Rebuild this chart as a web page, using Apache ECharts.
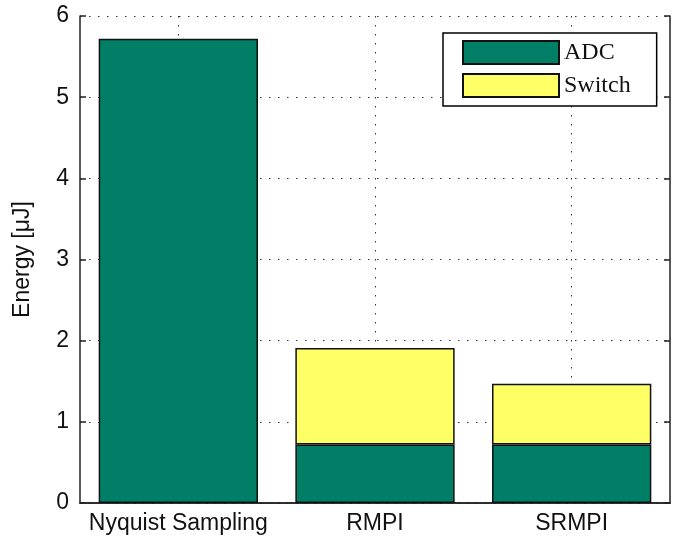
<!DOCTYPE html>
<html>
<head>
<meta charset="utf-8">
<script src="https://cdn.jsdelivr.net/npm/echarts@6/dist/echarts.min.js"></script>
<style>
  html, body { margin: 0; padding: 0; background: #fff; }
  #chart { width: 680px; height: 539px; }
</style>
</head>
<body>
<div id="chart"></div>
<script>
// Energy per acquisition scheme, split into ADC and switching contributions
const categories = ['Nyquist Sampling', 'RMPI', 'SRMPI'];
const adcEnergy = [5.72, 0.72, 0.72];
const switchEnergy = [0, 1.19, 0.75];
const yTicks = [0, 1, 2, 3, 4, 5, 6];

const SANS = '"Liberation Sans", Arial, Helvetica, sans-serif';
const SERIF = '"Liberation Serif", "Times New Roman", serif';
const dotted = { color: '#333', width: 1, type: [1.5, 7.5] };

// empty segments are left out so no zero-height outline is drawn on top of a bar
const skipZero = (arr) => arr.map((v) => (v === 0 ? '-' : v));

const chart = echarts.init(document.getElementById('chart'), null, { renderer: 'canvas' });

chart.setOption({
  animation: false,
  backgroundColor: '#fff',
  grid: { left: 80, right: 10, top: 16, bottom: 36, containLabel: false },
  legend: {
    left: 443,
    top: 33,
    orient: 'vertical',
    icon: 'rect',
    itemWidth: 96,
    itemHeight: 23,
    itemGap: 8,
    padding: [7, 26, 8, 19],
    borderColor: '#000',
    borderWidth: 1.5,
    backgroundColor: '#fff',
    textStyle: { fontFamily: SERIF, fontSize: 24, color: '#111' },
    data: ['ADC', 'Switch']
  },
  xAxis: [
    {
      type: 'category',
      data: categories,
      position: 'bottom',
      axisLine: { show: true, lineStyle: { color: '#222', width: 1.5 } },
      axisTick: { show: false },
      axisLabel: { fontFamily: SANS, fontSize: 23, color: '#111', margin: 9, interval: 0, hideOverlap: false },
      splitLine: { show: false }
    },
    {
      // half-step helper axis: frames the top edge and puts dotted grid lines at bar centres
      type: 'category',
      data: ['', '', '', '', '', '', ''],
      boundaryGap: false,
      position: 'top',
      axisLine: { show: true, lineStyle: { color: '#222', width: 1.5 } },
      axisTick: { show: false },
      axisLabel: { show: false },
      splitLine: { show: true, interval: (i) => i % 2 === 1, lineStyle: dotted }
    }
  ],
  yAxis: [
    {
      type: 'value',
      min: yTicks[0],
      max: yTicks[yTicks.length - 1],
      interval: 1,
      name: 'Energy [μJ]',
      nameLocation: 'middle',
      nameGap: 46,
      nameTextStyle: { fontFamily: SANS, fontSize: 23, color: '#111' },
      axisLine: { show: true, lineStyle: { color: '#222', width: 1.5 } },
      axisTick: { show: true, inside: true, length: 6, lineStyle: { color: '#222', width: 1.5 } },
      axisLabel: { fontFamily: SANS, fontSize: 23, color: '#111', margin: 11 },
      splitLine: { show: true, lineStyle: dotted }
    },
    {
      type: 'value',
      min: yTicks[0],
      max: yTicks[yTicks.length - 1],
      interval: 1,
      position: 'right',
      axisLine: { show: true, lineStyle: { color: '#222', width: 1.5 } },
      axisTick: { show: true, inside: true, length: 6, lineStyle: { color: '#222', width: 1.5 } },
      axisLabel: { show: false },
      splitLine: { show: false }
    }
  ],
  series: [
    {
      name: 'ADC',
      type: 'bar',
      stack: 'energy',
      data: skipZero(adcEnergy),
      barWidth: '81%',
      itemStyle: { color: '#007f66', borderColor: '#111', borderWidth: 1.5 }
    },
    {
      name: 'Switch',
      type: 'bar',
      stack: 'energy',
      data: skipZero(switchEnergy),
      barWidth: '81%',
      itemStyle: { color: '#ffff66', borderColor: '#111', borderWidth: 1.5 }
    }
  ]
});
</script>
</body>
</html>
